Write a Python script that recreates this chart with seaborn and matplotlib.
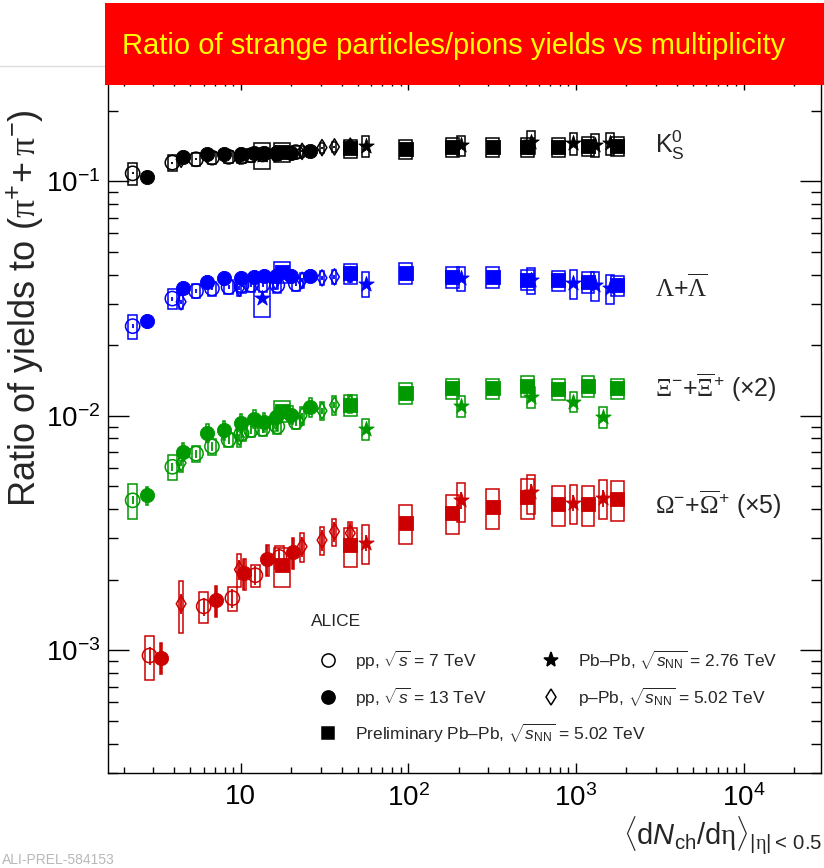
import numpy as np
import pandas as pd
import matplotlib
matplotlib.use("Agg")
import matplotlib.pyplot as plt
from matplotlib.patches import Rectangle
from matplotlib.lines import Line2D
from matplotlib import font_manager
from matplotlib.ticker import LogLocator, NullFormatter
import seaborn as sns

# ---------------------------------------------------------------------------
# Multiplicity classes, <dNch/deta> at |eta| < 0.5
# ---------------------------------------------------------------------------
pp7_x = [2.26, 3.90, 5.40, 6.72, 8.45, 10.1, 11.5, 13.5, 16.5, 21.3]
pp13_x = [2.75, 4.50, 6.32, 7.95, 10.02, 12.04, 13.77, 16.17, 20.02, 26.02]
ppb_x = [4.4, 9.8, 16.1, 23.2, 30.5, 36.2, 45.0]
pbpb276_x = [13.4, 55.5, 205.0, 537.5, 966.0, 1294.0, 1601.0]
pbpb276_x_mb = [55.5, 205.0, 537.5, 966.0, 1447.5]
pbpb502_x = [17.5, 44.9, 96.3, 183.0, 318.0, 512.0, 786.0, 1180.0, 1764.0]
omega_pp7_x = [2.85, 6.0, 8.9, 12.2, 17.0]
omega_pp13_x = [3.35, 7.1, 10.5, 14.4, 20.4]
omega_ppb_x = [4.4, 9.8, 23.2, 30.5, 36.2, 45.0]

# ---------------------------------------------------------------------------
# Yield ratios to (pi+ + pi-)
# ---------------------------------------------------------------------------
k0s_pp7 = [0.108, 0.120, 0.124, 0.126, 0.127, 0.127, 0.129, 0.130, 0.131, 0.133]
k0s_pp13 = [0.104, 0.127, 0.130, 0.131, 0.131, 0.132, 0.132, 0.132, 0.132, 0.135]
k0s_ppb = [0.124, 0.128, 0.131, 0.134, 0.139, 0.140, 0.141]
k0s_pbpb276 = [0.129, 0.141, 0.142, 0.147, 0.145, 0.143, 0.145]
k0s_pbpb502 = [0.133, 0.138, 0.137, 0.140, 0.140, 0.140, 0.140, 0.141, 0.141]

lam_pp7 = [0.0241, 0.0316, 0.0340, 0.0349, 0.0354, 0.0360, 0.0362, 0.0362, 0.0360, 0.0365]
lam_pp13 = [0.0253, 0.0351, 0.0372, 0.0385, 0.0387, 0.0391, 0.0395, 0.0395, 0.0395, 0.0395]
lam_ppb = [0.0306, 0.0350, 0.0375, 0.0378, 0.0387, 0.0391, 0.0400]
lam_pbpb276 = [0.0318, 0.0366, 0.0386, 0.0378, 0.0367, 0.0360, 0.0350]
lam_pbpb502 = [0.0410, 0.0405, 0.0407, 0.0390, 0.0390, 0.0380, 0.0378, 0.0372, 0.0360]

xi_pp7 = [0.00218, 0.00303, 0.00345, 0.00370, 0.00395, 0.00420, 0.00435, 0.00440, 0.00450, 0.00470]
xi_pp13 = [0.00229, 0.00351, 0.00423, 0.00435, 0.00465, 0.00485, 0.00470, 0.00495, 0.00505, 0.00545]
xi_ppb = [0.00315, 0.00405, 0.00475, 0.00500, 0.00525, 0.00555, 0.00565]
xi_pbpb276 = [0.00440, 0.00550, 0.00600, 0.00575, 0.00495]
xi_pbpb502 = [0.00525, 0.00555, 0.00625, 0.00655, 0.00655, 0.00670, 0.00650, 0.00670, 0.00655]

om_pp7 = [0.000190, 0.000308, 0.000334, 0.000418, 0.000500]
om_pp13 = [0.000186, 0.000328, 0.000426, 0.000488, 0.000524]
om_ppb = [0.000316, 0.000442, 0.000554, 0.000590, 0.000642, 0.000632]
om_pbpb276 = [0.000576, 0.000872, 0.000944, 0.000850, 0.000892]
om_pbpb502 = [0.000460, 0.000560, 0.000700, 0.000772, 0.000816, 0.000900, 0.000840, 0.000840, 0.000882]

# Relative systematic (box) and statistical (bar) uncertainties
k0s_sys = {"pp7": [0.11, 0.075, 0.06, 0.06, 0.06, 0.06, 0.06, 0.06, 0.06, 0.06],
           "pp13": 0.05, "ppb": 0.05, "pbpb276": [0.13, 0.10, 0.10, 0.11, 0.11, 0.11, 0.11],
           "pbpb502": 0.09}
lam_sys = {"pp7": [0.12, 0.10, 0.07, 0.07, 0.07, 0.07, 0.07, 0.07, 0.07, 0.07],
           "pp13": 0.06, "ppb": 0.07, "pbpb276": [0.17, 0.12, 0.12, 0.13, 0.14, 0.14, 0.14],
           "pbpb502": 0.10}
xi_sys = {"pp7": [0.17, 0.12, 0.08, 0.08, 0.07, 0.07, 0.07, 0.07, 0.07, 0.07],
          "pp13": 0.09, "ppb": 0.09, "pbpb276": 0.10, "pbpb502": 0.10}
om_sys = {"pp7": [0.21, 0.15, 0.12, 0.11, 0.11], "pp13": 0.15,
          "ppb": [0.25, 0.16, 0.14, 0.14, 0.13, 0.12], "pbpb276": 0.19, "pbpb502": 0.19}
k0s_stat = {"pp7": 0.01, "pp13": 0.01, "ppb": 0.01, "pbpb276": 0.02, "pbpb502": 0.01}
lam_stat = {"pp7": 0.02, "pp13": 0.02, "ppb": 0.02, "pbpb276": 0.03, "pbpb502": 0.01}
xi_stat = {"pp7": 0.04, "pp13": 0.04, "ppb": 0.03, "pbpb276": 0.04, "pbpb502": 0.02}
om_stat = {"pp7": 0.09, "pp13": 0.15, "ppb": 0.10, "pbpb276": 0.08, "pbpb502": 0.05}

species = ["K0S", "Lambda", "Xi", "Omega"]
species_scale = [1, 1, 2, 5]
species_color = ["#000000", "#0000ff", "#009900", "#cc0000"]

tables = {
    "K0S": ({"pp7": (pp7_x, k0s_pp7), "pp13": (pp13_x, k0s_pp13), "ppb": (ppb_x, k0s_ppb),
             "pbpb276": (pbpb276_x, k0s_pbpb276), "pbpb502": (pbpb502_x, k0s_pbpb502)},
            k0s_sys, k0s_stat),
    "Lambda": ({"pp7": (pp7_x, lam_pp7), "pp13": (pp13_x, lam_pp13), "ppb": (ppb_x, lam_ppb),
                "pbpb276": (pbpb276_x, lam_pbpb276), "pbpb502": (pbpb502_x, lam_pbpb502)},
               lam_sys, lam_stat),
    "Xi": ({"pp7": (pp7_x, xi_pp7), "pp13": (pp13_x, xi_pp13), "ppb": (ppb_x, xi_ppb),
            "pbpb276": (pbpb276_x_mb, xi_pbpb276), "pbpb502": (pbpb502_x, xi_pbpb502)},
           xi_sys, xi_stat),
    "Omega": ({"pp7": (omega_pp7_x, om_pp7), "pp13": (omega_pp13_x, om_pp13),
               "ppb": (omega_ppb_x, om_ppb), "pbpb276": (pbpb276_x_mb, om_pbpb276),
               "pbpb502": (pbpb502_x, om_pbpb502)},
              om_sys, om_stat),
}

rows = []
for sp, scale in zip(species, species_scale):
    series, sys_d, stat_d = tables[sp]
    for sysname, (xs, ys) in series.items():
        n = len(xs)
        sy = np.broadcast_to(np.asarray(sys_d[sysname], dtype=float), (n,))
        st = np.broadcast_to(np.asarray(stat_d[sysname], dtype=float), (n,))
        for xv, yv, a, b in zip(xs, ys, sy, st):
            rows.append(dict(species=sp, system=sysname, x=xv, y=yv * scale, sys=a, stat=b))
df = pd.DataFrame(rows)

# ---------------------------------------------------------------------------
# Styling
# ---------------------------------------------------------------------------
sns.set_theme(style="ticks")
available = {f.name for f in font_manager.fontManager.ttflist}
SANS = "Liberation Sans" if "Liberation Sans" in available else "DejaVu Sans"
NARROW = "Liberation Sans Narrow" if "Liberation Sans Narrow" in available else SANS
SERIF = "Liberation Serif" if "Liberation Serif" in available else "DejaVu Serif"
plt.rcParams["font.family"] = [SANS, "DejaVu Sans"]
plt.rcParams["mathtext.fontset"] = "custom"
plt.rcParams["mathtext.rm"] = SANS
plt.rcParams["mathtext.it"] = SANS + ":italic"
plt.rcParams["mathtext.bf"] = SANS + ":bold"
plt.rcParams["mathtext.sf"] = SERIF

# marker, filled, size (pt^2), box half-width (dex)
system_style = {
    "pp7": ("o", False, 105, 0.025),
    "ppb": ("d", False, 68, 0.012),
    "pp13": ("o", True, 105, 0.007),
    "pbpb276": ("*", True, 135, 0.023),
    "pbpb502": ("s", True, 90, 0.038),
}
draw_order = ["pp7", "ppb", "pp13", "pbpb276", "pbpb502"]

W, H = 824, 868
fig = plt.figure(figsize=(W / 100, H / 100), dpi=100)
fig.patch.set_facecolor("white")
ax_l, ax_r, ax_t, ax_b = 107.5, 821.0, 80.0, 773.0
ax = fig.add_axes([ax_l / W, 1 - ax_b / H, (ax_r - ax_l) / W, (ax_b - ax_t) / H])
ax.set_xscale("log")
ax.set_yscale("log")
ax.set_xlim(1.6, 2.9e4)
ax.set_ylim(3e-4, 0.27)
ax.set_facecolor("white")

z = 2
for sp, col in zip(species, species_color):
    for sysname in draw_order:
        sub = df[(df.species == sp) & (df.system == sysname)]
        if sub.empty:
            continue
        marker, filled, size, hw = system_style[sysname]
        for _, r in sub.iterrows():
            w = hw
            if sysname in ("pbpb276", "pbpb502") and r.x < 20:
                w = 0.048
            x0, x1 = r.x / 10 ** w, r.x * 10 ** w
            ax.add_patch(Rectangle((x0, r.y * (1 - r.sys)), x1 - x0, 2 * r.y * r.sys,
                                   fill=False, edgecolor=col, linewidth=1.1, zorder=z))
        ax.vlines(sub.x, sub.y * (1 - sub.stat), sub.y * (1 + sub.stat),
                  color=col, linewidth=1.3, zorder=z + 0.5)
        if filled:
            sns.scatterplot(data=sub, x="x", y="y", marker=marker, s=size, color=col,
                            edgecolor=col, linewidth=0.6, ax=ax, legend=False, zorder=z + 0.8)
        else:
            sns.scatterplot(data=sub, x="x", y="y", marker=marker, s=size, color=col,
                            facecolor="none", edgecolor=col, linewidth=1.1, ax=ax,
                            legend=False, zorder=z + 0.8)
        z += 1

ax.set_xlabel("")
ax.set_ylabel("")

# Axes frame and ticks
for s in ax.spines.values():
    s.set_linewidth(1.0)
    s.set_color("black")
ax.set_xticks([10, 100, 1000, 10000], labels=["10", r"$10^{2}$", r"$10^{3}$", r"$10^{4}$"])
ax.set_yticks([1e-3, 1e-2, 1e-1], labels=[r"$10^{-3}$", r"$10^{-2}$", r"$10^{-1}$"])
ax.xaxis.set_minor_locator(LogLocator(base=10, subs=np.arange(2, 10), numticks=20))
ax.yaxis.set_minor_locator(LogLocator(base=10, subs=np.arange(2, 10), numticks=20))
ax.xaxis.set_minor_formatter(NullFormatter())
ax.yaxis.set_minor_formatter(NullFormatter())
ax.tick_params(axis="both", which="both", direction="in", top=True, right=True,
               color="black", width=1.0, labelsize=20, labelcolor="black")
ax.tick_params(axis="x", which="major", length=7.5, pad=8)
ax.tick_params(axis="x", which="minor", length=4)
ax.tick_params(axis="y", which="major", length=15, pad=5)
ax.tick_params(axis="y", which="minor", length=7.5)
ax.grid(False)


def axfrac(px, py):
    return (px - ax_l) / (ax_r - ax_l), (ax_b - py) / (ax_b - ax_t)


# Particle labels
lab_fs = 18
ax.text(*axfrac(655, 153), r"$\mathrm{K}^{0}_{\mathrm{S}}$", fontsize=lab_fs,
        transform=ax.transAxes, va="baseline", ha="left")
ax.text(*axfrac(655, 297), r"$\mathsf{\Lambda}$+$\overline{\mathsf{\Lambda}}$", fontsize=lab_fs,
        transform=ax.transAxes, va="baseline", ha="left")
ax.text(*axfrac(655, 397), r"$\mathsf{\Xi}^{-}$+$\overline{\mathsf{\Xi}}^{+}$ (×2)", fontsize=lab_fs,
        transform=ax.transAxes, va="baseline", ha="left")
ax.text(*axfrac(655, 514), r"$\mathsf{\Omega}^{-}$+$\overline{\mathsf{\Omega}}^{+}$ (×5)",
        fontsize=lab_fs, transform=ax.transAxes, va="baseline", ha="left")

# Legend block
leg_fs = 12.5
ax.text(*axfrac(311, 622), "ALICE", fontsize=leg_fs, transform=ax.transAxes,
        va="center", ha="left")
legend_entries = [
    (328, 660, "o", False, r"pp, $\sqrt{s}$ = 7 TeV", 9.5),
    (328, 697, "o", True, r"pp, $\sqrt{s}$ = 13 TeV", 9.5),
    (328, 733, "s", True, r"Preliminary Pb–Pb, $\sqrt{s_{\mathrm{NN}}}$ = 5.02 TeV", 9.0),
    (551, 660, "*", True, r"Pb–Pb, $\sqrt{s_{\mathrm{NN}}}$ = 2.76 TeV", 11.0),
    (551, 697, "d", False, r"p–Pb, $\sqrt{s_{\mathrm{NN}}}$ = 5.02 TeV", 7.8),
]
for px, py, mk, filled, txt, ms in legend_entries:
    fx, fy = axfrac(px, py)
    ax.add_line(Line2D([fx], [fy], transform=ax.transAxes, marker=mk, markersize=ms,
                       markerfacecolor="black" if filled else "none",
                       markeredgecolor="black", markeredgewidth=1.1, linestyle="none"))
    tx, _ = axfrac(px + 27, py)
    ax.text(tx, fy, txt, fontsize=leg_fs, transform=ax.transAxes, va="center", ha="left")

# Axis titles
fig.text(25 / W, 1 - 308 / H, r"Ratio of yields to $(\mathsf{\pi}^{+}\!+\mathsf{\pi}^{-})$",
         rotation=90, fontsize=26, ha="center", va="center")
fig.text(822 / W, 1 - 836 / H,
         r"$\langle \mathrm{d}N_{\mathrm{ch}}/\mathrm{d}\mathsf{\eta}\rangle_{|\mathsf{\eta}|<\,0.5}$",
         fontsize=21, ha="right", va="center")

# Header banner
fig.add_artist(Line2D([0, 105 / W], [1 - 66 / H, 1 - 66 / H], transform=fig.transFigure,
                      color="#dddddd", linewidth=1.0, zorder=9))
fig.add_artist(Rectangle((105 / W, 1 - 85 / H), 1 - 105 / W, 82 / H, transform=fig.transFigure,
                         facecolor="#ff0000", edgecolor="none", zorder=10))
fig.text(122 / W, 1 - 46 / H, "Ratio of strange particles/pions yields vs multiplicity",
         color="#ffff00", fontsize=21, fontfamily=[NARROW, "DejaVu Sans"],
         ha="left", va="center", zorder=11)
fig.text(2 / W, 1 - 853 / H, "ALI-PREL-584153", color="#b8b8b8", fontsize=10,
         ha="left", va="top")

fig.savefig("out.png", dpi=100, facecolor="white")
